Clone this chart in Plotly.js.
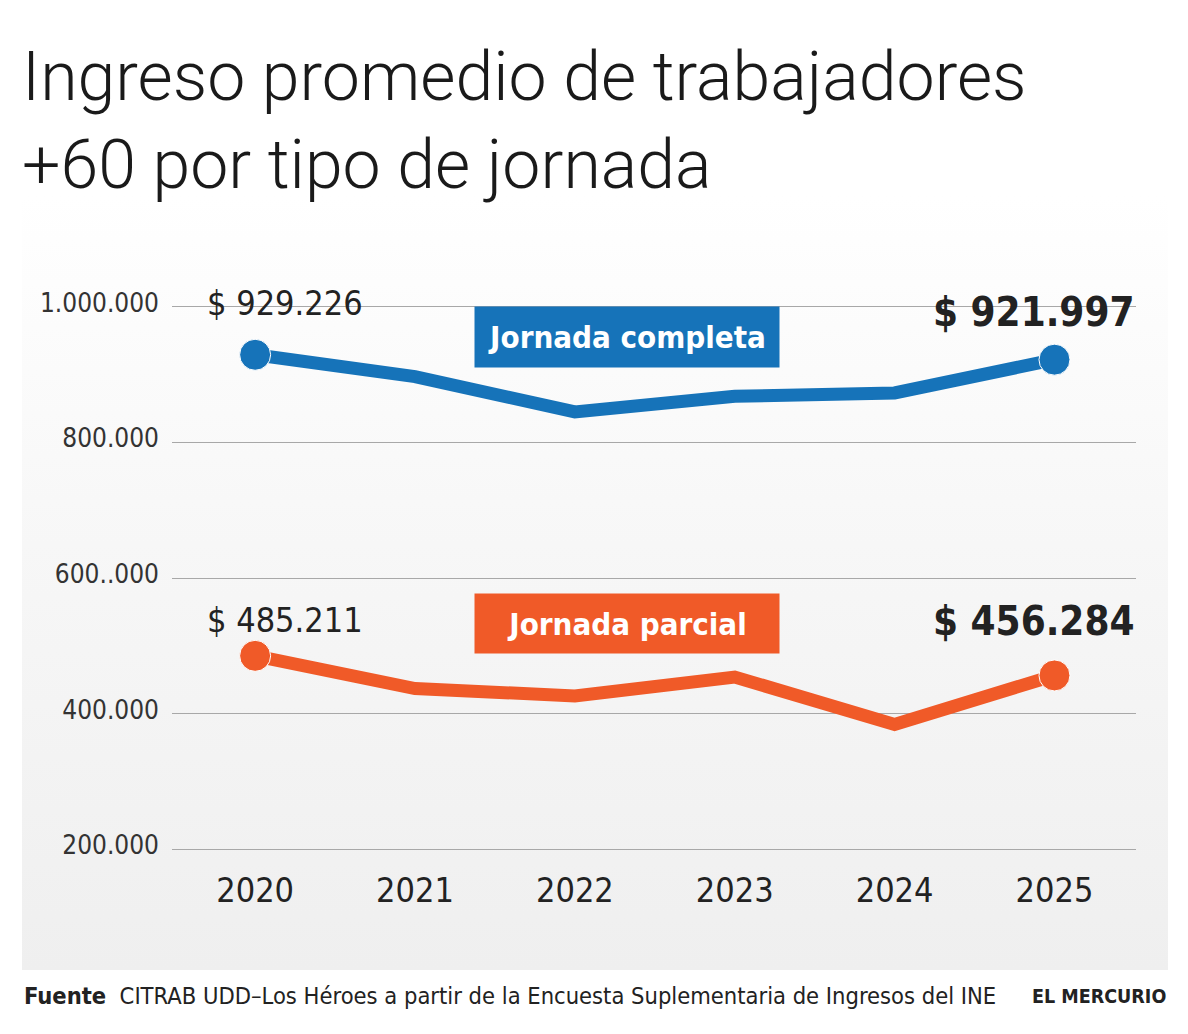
<!DOCTYPE html>
<html>
<head>
<meta charset="utf-8">
<script src="https://cdn.plot.ly/plotly-3.0.1.min.js"></script>
<style>
  body { margin: 0; background: #ffffff; }
  #wrap { position: relative; width: 1188px; height: 1034px; }
  #panel {
    position: absolute; left: 22px; top: 195px; width: 1146px; height: 775px;
    background: linear-gradient(to bottom, #ffffff 0%, #f7f7f7 45%, #efefef 100%);
  }
  #chart { position: absolute; left: 0; top: 0; width: 1188px; height: 1034px; }
</style>
</head>
<body>
<div id="wrap">
  <div id="panel"></div>
  <div id="chart"></div>
</div>
<script>
// data
var years = [2020, 2021, 2022, 2023, 2024, 2025];
var completa = [929226, 897000, 845000, 868000, 873000, 921997];
var parcial = [485211, 437000, 426000, 454000, 384000, 456284];
var yTickVals = [200000, 400000, 600000, 800000, 1000000];
var yTickText = ['200.000', '400.000', '600..000', '800.000', '1.000.000'];

var BLUE = '#1673b9';
var ORANGE = '#f05a28';
var DJC = '"DejaVu Sans Condensed", sans-serif';

function fmt(v) {
    return '$ ' + String(v).replace(/\B(?=(\d{3})+(?!\d))/g, '.');
}

function endSizes(arr) {
    return arr.map(function (d, i) { return (i === 0 || i === arr.length - 1) ? 31 : 0; });
}

var last = years.length - 1;

var data = [{
    x: years,
    y: completa,
    type: 'scatter',
    mode: 'lines+markers',
    line: {color: BLUE, width: 13},
    marker: {color: BLUE, size: endSizes(years), opacity: 1},
    cliponaxis: false,
    hoverinfo: 'skip'
}, {
    x: years,
    y: parcial,
    type: 'scatter',
    mode: 'lines+markers',
    line: {color: ORANGE, width: 13},
    marker: {color: ORANGE, size: endSizes(years), opacity: 1},
    cliponaxis: false,
    hoverinfo: 'skip'
}];

var annotations = [
    // first and last values
    {x: years[0], y: completa[0], text: fmt(completa[0]), xanchor: 'left', yanchor: 'middle',
        xshift: -50, yshift: 52, showarrow: false, font: {family: DJC, size: 34, color: '#222'}},
    {x: years[last], y: completa[last], text: '<b>' + fmt(completa[last]) + '</b>', xanchor: 'right', yanchor: 'middle',
        xshift: 82, yshift: 48, showarrow: false, font: {family: DJC, size: 40, color: '#222'}},
    {x: years[0], y: parcial[0], text: fmt(parcial[0]), xanchor: 'left', yanchor: 'middle',
        xshift: -50, yshift: 36, showarrow: false, font: {family: DJC, size: 34, color: '#222'}},
    {x: years[last], y: parcial[last], text: '<b>' + fmt(parcial[last]) + '</b>', xanchor: 'right', yanchor: 'middle',
        xshift: 82, yshift: 54, showarrow: false, font: {family: DJC, size: 40, color: '#222'}},
    // series labels
    {xref: 'paper', yref: 'paper', x: 0.472, y: 0.9338, xanchor: 'center', yanchor: 'middle',
        text: '<b>Jornada completa</b>',
        showarrow: false, width: 304, height: 60, borderpad: 0, bgcolor: BLUE,
        font: {family: DJC, size: 31, color: '#ffffff'}},
    {xref: 'paper', yref: 'paper', x: 0.472, y: 0.4181, xanchor: 'center', yanchor: 'middle',
        text: '<b>Jornada parcial</b>',
        showarrow: false, width: 304, height: 59, borderpad: 0, bgcolor: ORANGE,
        font: {family: DJC, size: 31, color: '#ffffff'}},
    // footer
    {xref: 'paper', yref: 'paper', x: -0.1556, y: -0.2523, xanchor: 'left', yanchor: 'middle',
        text: '<b>Fuente</b>  CITRAB UDD–Los Héroes a partir de la Encuesta Suplementaria de Ingresos del INE',
        showarrow: false, font: {family: DJC, size: 23.5, color: '#222'}},
    {xref: 'paper', yref: 'paper', x: 1.0332, y: -0.2523, xanchor: 'right', yanchor: 'middle',
        text: '<b>EL MERCURIO</b>',
        showarrow: false, font: {family: DJC, size: 19.5, color: '#222'}}
];

var layout = {
    width: 1188,
    height: 1034,
    autosize: false,
    showlegend: false,
    paper_bgcolor: 'rgba(0,0,0,0)',
    plot_bgcolor: 'rgba(0,0,0,0)',
    margin: {l: 172, r: 52, t: 300, b: 178, pad: 0},
    title: {
        text: 'Ingreso promedio de trabajadores<br>+60 por tipo de jornada',
        xref: 'container', yref: 'container',
        x: 22 / 1188, xanchor: 'left',
        y: 1 - 100 / 1034, yanchor: 'top',
        font: {family: 'Roboto, sans-serif', weight: 300, size: 68, color: '#1a1a1a'}
    },
    xaxis: {
        range: [2019.48, 2025.51],
        tickvals: years,
        ticktext: years.map(String),
        showgrid: false,
        zeroline: false,
        showline: false,
        ticks: '',
        ticklabelstandoff: 11,
        tickfont: {family: DJC, size: 34, color: '#222'},
        fixedrange: true
    },
    yaxis: {
        range: [190000, 1010000],
        tickvals: yTickVals,
        ticktext: yTickText,
        showgrid: true,
        gridcolor: '#a8a8a8',
        gridwidth: 1,
        zeroline: false,
        showline: false,
        ticks: '',
        ticklabelstandoff: 12,
        ticklabelshift: -4,
        tickfont: {family: DJC, size: 26, color: '#333'},
        fixedrange: true
    },
    annotations: annotations
};

Plotly.newPlot('chart', data, layout, {staticPlot: true, displayModeBar: false});
</script>
</body>
</html>
